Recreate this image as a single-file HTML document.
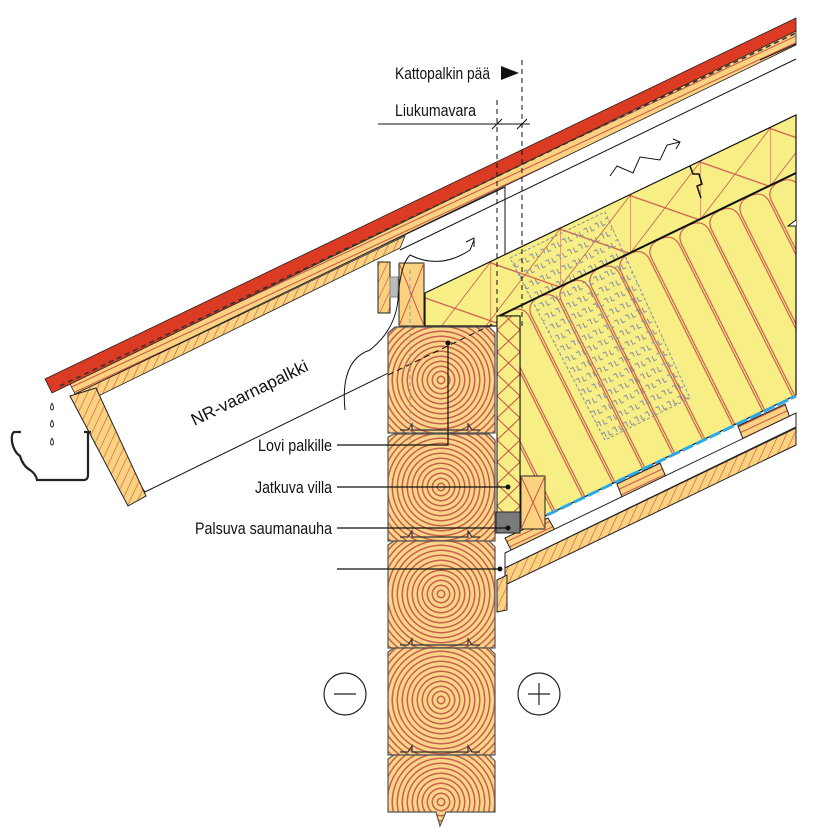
<!DOCTYPE html>
<html><head><meta charset="utf-8"><style>
html,body{margin:0;padding:0;background:#fff;}
svg{display:block}
text{font-family:"Liberation Sans Narrow","Liberation Sans",sans-serif;fill:#111}
</style></head><body>
<svg width="840" height="838" viewBox="0 0 840 838" xmlns="http://www.w3.org/2000/svg">
<defs>
<pattern id="hatch" width="7" height="7" patternUnits="userSpaceOnUse" patternTransform="rotate(25)">
<rect width="7" height="7" fill="#fbd27f"/><line x1="0" y1="0" x2="0" y2="7" stroke="#c9534a" stroke-width="1.2"/></pattern>
<pattern id="hatch2" width="6" height="6" patternUnits="userSpaceOnUse" patternTransform="rotate(-25)">
<rect width="6" height="6" fill="#fbd27f"/><line x1="0" y1="3" x2="6" y2="3" stroke="#c9534a" stroke-width="1"/></pattern>
<pattern id="xh" width="23" height="22" patternUnits="userSpaceOnUse" x="497">
<rect width="23" height="22" fill="#f7ef86"/><path d="M0 0L23 22M23 0L0 22" stroke="#c9534a" stroke-width="1"/></pattern>
<pattern id="fib" width="30" height="240" patternUnits="userSpaceOnUse" y="73.4" patternTransform="skewY(-25.6) skewX(22)">
<rect width="30" height="240" fill="#f7ef86"/><path d="M1 240 L1 18 Q1 2 15 2 Q29 2 29 18 L29 240" fill="none" stroke="#c9534a" stroke-width="1"/></pattern>
<pattern id="tri" width="70" height="58" patternUnits="userSpaceOnUse" y="33.4" patternTransform="skewY(-25.6)">
<rect width="70" height="58" fill="#f7ef86"/><path d="M0 0V58M0 0L70 58M70 0L0 58" stroke="#c9534a" stroke-width="1"/></pattern>
<pattern id="dots" width="12" height="12" patternUnits="userSpaceOnUse" patternTransform="rotate(-25.6)">
<path d="M2 3v5h3M7 3h3v5" fill="none" stroke="#8a8fa0" stroke-width="1"/></pattern>
<radialGradient id="r1" gradientUnits="userSpaceOnUse" cx="441" cy="380" r="5" spreadMethod="repeat"><stop offset="0" stop-color="#fad487"/><stop offset=".55" stop-color="#fad487"/><stop offset=".62" stop-color="#c9604f"/><stop offset=".85" stop-color="#c9604f"/><stop offset=".92" stop-color="#fad487"/></radialGradient>
<radialGradient id="r2" href="#r1" cx="441" cy="487"/>
<radialGradient id="r3" href="#r1" cx="441" cy="594"/>
<radialGradient id="r4" href="#r1" cx="441" cy="700"/>
<radialGradient id="r5" href="#r1" cx="441" cy="802"/>
</defs>

<polygon points="75,393 400,237 505,187 505,316 145,492" fill="#fff" stroke="#111" stroke-width="1"/>
<polygon points="68,380 796,31 796,45 75,394" fill="url(#hatch2)" stroke="#222" stroke-width=".8"/>
<polygon points="75,394 405,236 400,248 80,405" fill="url(#hatch)" stroke="#222" stroke-width=".8"/>
<polygon points="45,379 796,18 796,31 52,393" fill="#db3b22" stroke="#222" stroke-width=".8"/>
<line x1="60" y1="386" x2="796" y2="33" stroke="#333" stroke-width="1.6" stroke-dasharray="5,4"/>
<line x1="400" y1="250" x2="796" y2="59" stroke="#111" stroke-width="1"/>
<line x1="760" y1="60" x2="796" y2="44" stroke="#111" stroke-width="1"/>
<polygon points="70,396 96,388 146,496 128,506" fill="url(#hatch)" stroke="#222" stroke-width="1"/>
<path d="M21 432 H14 Q11 434 12 442 Q14 452 20 456 Q23 466 30 470 Q36 474 37 480 L85 480 Q88 479 88 475 L88 432 M84 432 L91 432" fill="none" stroke="#222" stroke-width="2.2"/>
<path d="M52 403q-3 6 0 7q3-1 0-7M52 420q-3 6 0 7q3-1 0-7M52 438q-3 6 0 7q3-1 0-7" fill="none" stroke="#333" stroke-width="1"/>

<polygon points="425,293 796,115 796,395 520,528 520,316 497,316 497,326 425,326" fill="url(#fib)"/>
<polygon points="425,293 796,115 796,173 497,316 497,326 425,326" fill="url(#tri)"/>
<polygon points="510,258 605,212 690,398 605,440" fill="url(#dots)" stroke="#8a8fa0" stroke-dasharray="3,2"/>
<polygon points="425,293 796,115 796,395 520,528 520,316 497,316 497,326 425,326" fill="none" stroke="#111" stroke-width="1.2"/>
<line x1="497" y1="317" x2="796" y2="173" stroke="#111" stroke-width="2"/>
<path d="M690 166l3 8l6 0l3 10l-5 2l4 12" fill="none" stroke="#111" stroke-width="1.5"/>
<path d="M796 220l-8 6l8 0" fill="#fff" stroke="#111"/>
<line x1="520" y1="528" x2="796" y2="396" stroke="#2aa8e8" stroke-width="3" stroke-dasharray="12,3"/>
<polygon points="505,538 548,518 556,532 512,552" fill="url(#hatch2)" stroke="#222"/>
<polygon points="617,484 660,463 666,477 622,497" fill="url(#hatch2)" stroke="#222"/>
<polygon points="738,426 785,404 790,418 743,439" fill="url(#hatch2)" stroke="#222"/>
<polygon points="505,553 796,413 796,427 505,568" fill="#fff" stroke="#222"/>
<polygon points="505,568 796,428 796,445 505,585" fill="url(#hatch)" stroke="#222"/>
<polygon points="497,580 507,575 507,610 497,612" fill="url(#hatch)" stroke="#222"/>
<rect x="497" y="316" width="23" height="196" fill="url(#xh)" stroke="#111"/>
<rect x="496" y="512" width="24" height="21" fill="#7a7a7a" stroke="#222"/>
<rect x="521" y="476" width="24" height="53" fill="#fbd27f" stroke="#222"/>
<path d="M521 476L545 529M545 476L521 529" stroke="#c9534a"/>
<rect x="399" y="263" width="25" height="63" fill="#fbd27f" stroke="#222"/>
<path d="M399 263L424 326M424 263L399 326" stroke="#c9534a"/>
<rect x="378" y="262" width="12" height="51" fill="url(#hatch)" stroke="#222"/>
<rect x="390" y="277" width="8" height="20" fill="#bbb" stroke="#888"/>

<g stroke="#555" stroke-width="1.2">
<path d="M395 327H489L495 333V433H388V333Z" fill="url(#r1)"/>
<path d="M388 437L394 434H489L495 440V541H388Z" fill="url(#r2)"/>
<path d="M388 545L394 541H489L495 547V648H388Z" fill="url(#r3)"/>
<path d="M388 652L394 648H489L495 654V755H388Z" fill="url(#r4)"/>
<path d="M388 759L394 755H489L495 761V812H446L440 826L436 812H388Z" fill="url(#r5)"/>
</g>
<g fill="none" stroke="#333" stroke-width="1.2">
<path d="M400 430h8l4-6v6h56v-6l4 6h8"/><path d="M400 537h8l4-6v6h56v-6l4 6h8"/>
<path d="M400 645h8l4-6v6h56v-6l4 6h8"/><path d="M400 752h8l4-6v6h56v-6l4 6h8"/>
</g>
<line x1="388" y1="375" x2="497" y2="322" stroke="#111" stroke-dasharray="6,4"/>
<line x1="410" y1="270" x2="410" y2="440" stroke="#999" stroke-dasharray="4,3"/>

<path d="M345 410 Q340 360 370 350 Q395 330 398 300 Q400 265 410 255 Q440 270 470 250 L474 240" fill="none" stroke="#111"/>
<path d="M466 242l8-4l0 9" fill="none" stroke="#111"/>
<path d="M610 176l7-10l16 7l7-16l20 3l7-15l13-3" fill="none" stroke="#111"/>
<path d="M673 139l7 3l-4 7" fill="none" stroke="#111"/>

<line x1="497" y1="100" x2="497" y2="330" stroke="#111" stroke-dasharray="5,4"/>
<line x1="522" y1="60" x2="522" y2="330" stroke="#111" stroke-dasharray="5,4"/>
<line x1="378" y1="124" x2="530" y2="124" stroke="#111"/>
<path d="M492 129l10-10M517 129l10-10" stroke="#111"/>
<polygon points="501,66 501,80 519,73" fill="#111"/>
<text x="395" y="79" font-size="17" textLength="95" lengthAdjust="spacingAndGlyphs">Kattopalkin pää</text>
<text x="395" y="116" font-size="17" textLength="81" lengthAdjust="spacingAndGlyphs">Liukumavara</text>
<text x="252" y="398" font-size="17" transform="rotate(-26 252 398)" text-anchor="middle" textLength="128" lengthAdjust="spacingAndGlyphs">NR-vaarnapalkki</text>

<g font-size="17">
<text x="258" y="451" textLength="74" lengthAdjust="spacingAndGlyphs">Lovi palkille</text>
<text x="255" y="493" textLength="77" lengthAdjust="spacingAndGlyphs">Jatkuva villa</text>
<text x="195" y="534" textLength="137" lengthAdjust="spacingAndGlyphs">Palsuva saumanauha</text>
</g>
<g stroke="#111" fill="none" stroke-width="1.2">
<path d="M337 445H448V343"/><path d="M337 487H508"/><path d="M337 528H508"/><path d="M337 569H500"/>
</g>
<g fill="#111"><circle cx="448" cy="343" r="2.5"/><circle cx="508" cy="487" r="2.5"/><circle cx="508" cy="528" r="2.5"/><circle cx="500" cy="569" r="2.5"/></g>
<circle cx="345" cy="694" r="21" fill="#fff" stroke="#222" stroke-width="1.2"/>
<line x1="334" y1="694" x2="356" y2="694" stroke="#222" stroke-width="1.2"/>
<circle cx="539" cy="694" r="21" fill="#fff" stroke="#222" stroke-width="1.2"/>
<path d="M528 694H550M539 683V705" stroke="#222" stroke-width="1.2"/>
</svg>
</body></html>
